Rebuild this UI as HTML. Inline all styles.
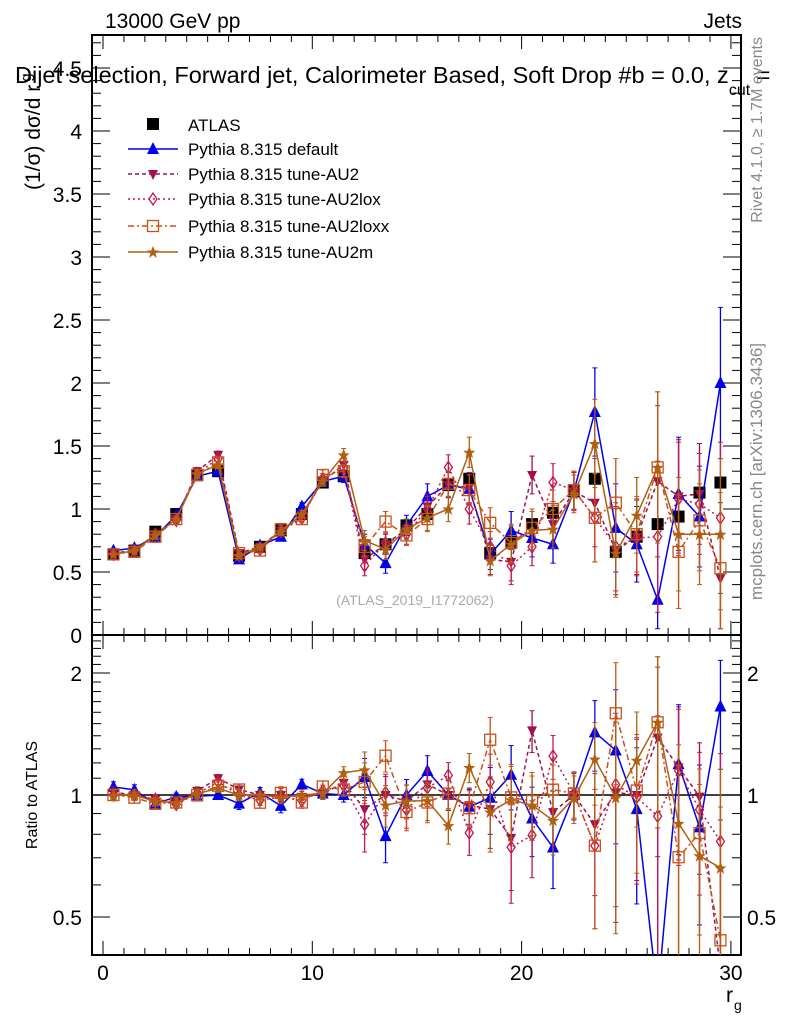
<!DOCTYPE html>
<html><head><meta charset="utf-8"><style>
html,body{margin:0;background:#fff;overflow:hidden;width:786px;height:1024px}
svg{display:block;font-family:"Liberation Sans",sans-serif}
</style></head><body>
<svg id="c" width="786" height="1024" viewBox="0 0 786 1024"></svg>
<script>
const bins=[0.5,1.5,2.5,3.5,4.5,5.5,6.5,7.5,8.5,9.5,10.5,11.5,12.5,13.5,14.5,15.5,16.5,17.5,18.5,19.5,20.5,21.5,22.5,23.5,24.5,25.5,26.5,27.5,28.5,29.5];
const atlas=[0.64,0.67,0.82,0.96,1.27,1.30,0.63,0.70,0.83,0.96,1.21,1.26,0.65,0.72,0.87,0.96,1.19,1.24,0.65,0.74,0.88,0.97,1.14,1.24,0.66,0.78,0.88,0.94,1.13,1.21];
const atlasErr=[0.01,0.01,0.01,0.01,0.02,0.02,0.01,0.01,0.01,0.02,0.02,0.02,0.02,0.02,0.02,0.03,0.03,0.03,0.03,0.03,0.03,0.04,0.04,0.04,0.04,0.04,0.05,0.05,0.05,0.06];
const sDefault=[0.67,0.69,0.78,0.95,1.26,1.30,0.60,0.71,0.78,1.02,1.22,1.26,0.72,0.57,0.87,1.10,1.19,1.16,0.64,0.83,0.77,0.72,1.14,1.77,0.85,0.72,0.28,1.12,0.94,2.00];
const sAU2=[0.65,0.67,0.80,0.92,1.30,1.43,0.65,0.70,0.83,0.95,1.22,1.35,0.60,0.72,0.84,1.02,1.19,1.17,0.60,0.58,1.27,0.88,1.14,1.05,0.67,0.78,1.22,1.10,1.12,0.45];
const sAU2lox=[0.64,0.67,0.80,0.91,1.28,1.40,0.63,0.68,0.82,0.93,1.24,1.33,0.55,0.73,0.80,1.00,1.33,1.00,0.70,0.55,0.70,1.21,1.15,0.93,0.70,0.77,0.78,1.08,1.04,0.93];
const sAU2loxx=[0.64,0.66,0.78,0.92,1.27,1.37,0.65,0.67,0.84,0.92,1.27,1.30,0.70,0.90,0.79,0.92,1.20,1.15,0.89,0.73,0.85,1.00,1.15,0.93,1.05,0.80,1.33,0.66,0.91,0.53];
const sAU2m=[0.64,0.67,0.79,0.92,1.28,1.35,0.63,0.70,0.82,0.96,1.22,1.43,0.75,0.68,0.84,0.93,1.00,1.45,0.59,0.72,0.83,0.84,1.12,1.52,0.65,0.95,1.33,0.80,0.80,0.80];
const mcErr=[0.02,0.02,0.02,0.02,0.03,0.03,0.02,0.02,0.03,0.03,0.04,0.05,0.08,0.08,0.08,0.1,0.1,0.12,0.12,0.15,0.15,0.15,0.15,0.35,0.35,0.3,0.6,0.45,0.4,0.6];
const mainTicks=["0","0.5","1","1.5","2","2.5","3","3.5","4","4.5"];
const xTicks=["0","10","20","30"];

const NS="http://www.w3.org/2000/svg",svg=document.getElementById('c');
function el(t,a,p){const e=document.createElementNS(NS,t);for(const k in a)e.setAttribute(k,a[k]);(p||svg).appendChild(e);return e;}
const L=92,R=741,MT=35,MB=635,RB=955;
const X=v=>103+v*20.93;
const Y=v=>635-v*126;
const YR=v=>795-Math.log2(v)*122;

let f=el('rect',{x:L,y:MT,width:R-L,height:MB-MT,fill:'none',stroke:'#000','stroke-width':2});

f=el('rect',{x:L,y:MB,width:R-L,height:RB-MB,fill:'none',stroke:'#000','stroke-width':2});


const ax=el('g',{stroke:'#000','stroke-width':1});

for(let v=0;v<=30;v++){const x=X(v),big=v%10==0,len=big?14:7;
 [MT,MB].forEach(y=>el('line',{x1:x,y1:y,x2:x,y2:y+len},ax));
 el('line',{x1:x,y1:MB,x2:x,y2:MB-len},ax);
 el('line',{x1:x,y1:RB,x2:x,y2:RB-len},ax);}
for(let i=0;i<=47;i++){const v=i*0.1,y=Y(v);if(y<MT)break;const big=i%5==0,len=big?18:9;
 el('line',{x1:L,y1:y,x2:L+len,y2:y},ax);el('line',{x1:R,y1:y,x2:R-len,y2:y},ax);}
mainTicks.forEach((t,i)=>{const tx=el('text',{x:82,y:Y(i*0.5)+8,'text-anchor':'end','font-size':21});tx.textContent=t;
 });
[0.4,0.5,0.6,0.7,0.8,0.9,1,1.1,1.2,1.3,1.4,1.5,1.6,1.7,1.8,1.9,2,2.1,2.2,2.3,2.4].forEach(v=>{const y=YR(v);if(y<MB||y>RB)return;
 const big=(v==0.5||v==1||v==2),len=big?18:9;
 el('line',{x1:L,y1:y,x2:L+len,y2:y},ax);el('line',{x1:R,y1:y,x2:R-len,y2:y},ax);});
[["0.5",0.5],["1",1],["2",2]].forEach(([t,v])=>{
 let tx=el('text',{x:82,y:YR(v)+8,'text-anchor':'end','font-size':21});tx.textContent=t;
 
 tx=el('text',{x:747,y:YR(v)+8,'font-size':21});tx.textContent=t;
 });
xTicks.forEach(t=>{const tx=el('text',{x:X(+t),y:980,'text-anchor':'middle','font-size':21});tx.textContent=t;
 });
let ref=el('line',{x1:L,y1:YR(1),x2:R,y2:YR(1),stroke:'#000','stroke-width':1.5});


function txt(s,a,name){const t=el('text',a);t.textContent=s;return t;}
txt('13000 GeV pp',{x:105,y:28,'font-size':21},'energy-label');
txt('Jets',{x:742,y:28,'font-size':21,'text-anchor':'end'},'process-label');
const pt=txt('Dijet selection, Forward jet, Calorimeter Based, Soft Drop #b = 0.0, z',{x:15,y:83,'font-size':23.5},'plot-title');
const cut=el('tspan',{'font-size':16,dy:12});cut.textContent='cut';pt.appendChild(cut);
const eq=el('tspan',{dy:-12});eq.textContent=' =';pt.appendChild(eq);
const yt=txt('(1/σ) dσ/d r',{x:0,y:0,'font-size':21,transform:'translate(40,190) rotate(-90)'},'y-axis-title');
const ys=el('tspan',{'font-size':15,dy:-9,dx:3},yt);ys.textContent='g';
txt('Ratio to ATLAS',{x:0,y:0,'font-size':16,transform:'translate(37,795) rotate(-90)','text-anchor':'middle'},'ratio-axis-title');
txt('r',{x:726,y:1002,'font-size':21},'x-axis-title');
txt('g',{x:734,y:1010,'font-size':14},'x-axis-title-sub');
txt('Rivet 4.1.0, ≥ 1.7M events',{x:0,y:0,'font-size':16,fill:'#888',transform:'translate(762,37) rotate(-90)','text-anchor':'end'},'rivet-label');
txt('mcplots.cern.ch [arXiv:1306.3436]',{x:0,y:0,'font-size':17,fill:'#888',transform:'translate(762,343) rotate(-90)','text-anchor':'end'},'mcplots-label');
txt('(ATLAS_2019_I1772062)',{x:415,y:605,'font-size':14,fill:'#aaa','text-anchor':'middle'},'analysis-id');

function marker(g,type,x,y,c){
 if(type=='sq')el('rect',{x:x-6,y:y-6,width:12,height:12,fill:'#000'},g);
 else if(type=='up')el('polygon',{points:`${x},${y-7} ${x-6},${y+5} ${x+6},${y+5}`,fill:c},g);
 else if(type=='down')el('polygon',{points:`${x},${y+6} ${x-5},${y-4} ${x+5},${y-4}`,fill:c},g);
 else if(type=='dia')el('polygon',{points:`${x},${y-6} ${x-4},${y} ${x},${y+6} ${x+4},${y}`,fill:'none',stroke:c,'stroke-width':1.3},g);
 else if(type=='osq')el('rect',{x:x-5.5,y:y-5.5,width:11,height:11,fill:'none',stroke:c,'stroke-width':1.3},g);
 else if(type=='star')el('polygon',{points:`${x},${y-6} ${x+1.8},${y-1.5} ${x+6},${y-1.5} ${x+2.5},${y+1.5} ${x+3.8},${y+6} ${x},${y+3} ${x-3.8},${y+6} ${x-2.5},${y+1.5} ${x-6},${y-1.5} ${x-1.8},${y-1.5}`,fill:c},g);
}
const series=[
 {name:'Pythia 8.315 default',d:sDefault,c:'#0000ee',m:'up',dash:'',id:'default'},
 {name:'Pythia 8.315 tune-AU2',d:sAU2,c:'#a0104a',m:'down',dash:'4,3',id:'au2'},
 {name:'Pythia 8.315 tune-AU2lox',d:sAU2lox,c:'#c01850',m:'dia',dash:'2,3',id:'au2lox'},
 {name:'Pythia 8.315 tune-AU2loxx',d:sAU2loxx,c:'#c8501a',m:'osq',dash:'6,3,2,3',id:'au2loxx'},
 {name:'Pythia 8.315 tune-AU2m',d:sAU2m,c:'#b06010',m:'star',dash:'',id:'au2m'}];

const clipM=el('clipPath',{id:'cm'});el('rect',{x:L,y:MT,width:R-L,height:MB-MT},clipM);
const clipR=el('clipPath',{id:'cr'});el('rect',{x:L,y:MB,width:R-L,height:RB-MB},clipR);

function draw(s,panel){
 const g=el('g',{'clip-path':panel=='main'?'url(#cm)':'url(#cr)'});
 
 
 const Yf=panel=='main'?Y:YR;
 const vals=s.d.map((v,i)=>panel=='main'?v:v/atlas[i]);
 const errs=s.d.map((v,i)=>panel=='main'?mcErr[i]:mcErr[i]/atlas[i]);
 el('polyline',{points:vals.map((v,i)=>X(bins[i])+','+Yf(Math.max(v,0.05))).join(' '),fill:'none',stroke:s.c,'stroke-width':1.5,'stroke-dasharray':s.dash},g);
 vals.forEach((v,i)=>{const x=X(bins[i]);const lo=Math.max(v-errs[i],0.05),hi=v+errs[i];
  el('line',{x1:x,y1:Yf(lo),x2:x,y2:Yf(hi),stroke:s.c,'stroke-width':1.3},g);
  el('line',{x1:x-2.5,y1:Yf(lo),x2:x+2.5,y2:Yf(lo),stroke:s.c},g);
  el('line',{x1:x-2.5,y1:Yf(hi),x2:x+2.5,y2:Yf(hi),stroke:s.c},g);
  marker(g,s.m,x,Yf(Math.max(v,0.05)),s.c);});
}
const ga=el('g',{'clip-path':'url(#cm)'});

atlas.forEach((v,i)=>{const x=X(bins[i]);el('line',{x1:x,y1:Y(v-atlasErr[i]),x2:x,y2:Y(v+atlasErr[i]),stroke:'#000'},ga);marker(ga,'sq',x,Y(v));});
series.forEach(s=>{draw(s,'main');draw(s,'ratio');});

const lg=el('g',{});

const ly=[124,149,174,199,226,252];
marker(lg,'sq',153,ly[0]);
txt('ATLAS',{x:188,y:ly[0]+7,'font-size':17},'legend-entry-atlas');
series.forEach((s,i)=>{const y=ly[i+1];
 el('line',{x1:128,y1:y,x2:178,y2:y,stroke:s.c,'stroke-width':1.5,'stroke-dasharray':s.dash},lg);
 marker(lg,s.m,153,y,s.c);
 txt(s.name,{x:188,y:y+6,'font-size':17},'legend-entry-'+s.id);});
</script>
</body></html>
